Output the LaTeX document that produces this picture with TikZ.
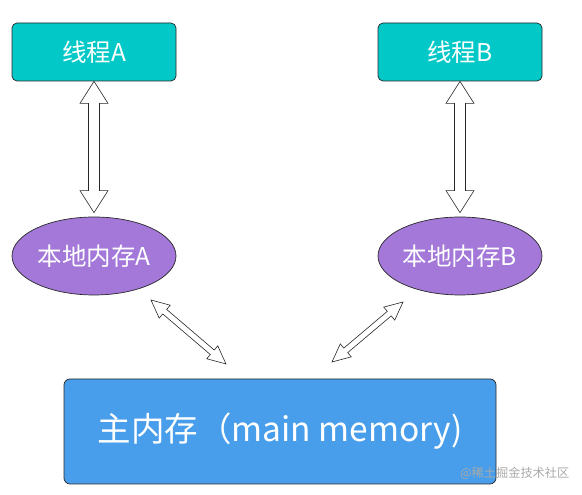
\documentclass[tikz,border=0pt]{standalone}
\usepackage{fontspec}
\setmainfont{Noto Sans CJK SC}
\usetikzlibrary{calc,shapes.geometric}
\definecolor{tealbox}{RGB}{3,200,200}
\definecolor{purpleell}{RGB}{163,120,216}
\definecolor{bluebox}{RGB}{72,158,234}
\definecolor{edgegray}{RGB}{40,40,40}
\definecolor{wmgray}{RGB}{170,170,170}
\newcommand\blockarr[5]{%
  \draw[blockline] let \p1=(#1), \p2=(#2),
    \n1={veclen(\x2-\x1,\y2-\y1)}, \n2={atan2(\y2-\y1,\x2-\x1)} in
    ([shift={(\p1)},rotate=\n2]0,0) --
    ([shift={(\p1)},rotate=\n2]#5,#4) --
    ([shift={(\p1)},rotate=\n2]#5,#3) --
    ([shift={(\p1)},rotate=\n2]\n1-#5,#3) --
    ([shift={(\p1)},rotate=\n2]\n1-#5,#4) --
    ([shift={(\p1)},rotate=\n2]\n1,0) --
    ([shift={(\p1)},rotate=\n2]\n1-#5,-#4) --
    ([shift={(\p1)},rotate=\n2]\n1-#5,-#3) --
    ([shift={(\p1)},rotate=\n2]#5,-#3) --
    ([shift={(\p1)},rotate=\n2]#5,-#4) -- cycle;}
\begin{document}
\begin{tikzpicture}[x=1pt,y=1pt,
  thread/.style={draw=edgegray,line width=0.7pt,fill=tealbox,rounded corners=5pt,
    minimum width=164pt,minimum height=58pt,inner sep=0pt,text=white,
    font=\fontsize{24.5}{28}\selectfont},
  localmem/.style={ellipse,draw=edgegray,line width=0.7pt,fill=purpleell,
    minimum width=164pt,minimum height=78pt,inner sep=0pt,text=white,
    font=\fontsize{24.5}{28}\selectfont},
  mainmem/.style={draw=edgegray,line width=0.7pt,fill=bluebox,rounded corners=6pt,
    minimum width=432pt,minimum height=105pt,inner sep=0pt,text=white,
    font=\fontsize{33.5}{38}\selectfont},
  blockline/.style={draw=edgegray,line width=0.6pt,fill=white,line join=miter}]
\useasboundingbox (0,0) rectangle (582,495);
\node[thread] (thA) at (94,443) {线程A};
\node[thread] (thB) at (460,443) {线程B};
\node[localmem] (memA) at (94,239) {本地内存A};
\node[localmem] (memB) at (460,239) {本地内存B};
\node[mainmem] (main) at (280,63.5) {主内存（main memory)};
\coordinate (vA1) at (thA.south);
\coordinate (vA2) at ([yshift=4pt]memA.north);
\coordinate (vB1) at (thB.south);
\coordinate (vB2) at ([yshift=4pt]memB.north);
\coordinate (dA1) at (151,195);
\coordinate (dA2) at (226,131);
\coordinate (dB1) at (403,193);
\coordinate (dB2) at (332,133);
\blockarr{vA1}{vA2}{5.5}{14}{22}
\blockarr{vB1}{vB2}{5.5}{14}{22}
\blockarr{dA1}{dA2}{3}{8.5}{18}
\blockarr{dB1}{dB2}{3}{8.5}{18}
\node[text=wmgray,font=\fontsize{12.2}{14}\selectfont,anchor=west,inner sep=0pt] (wm) at (460,22) {@稀土掘金技术社区};
\end{tikzpicture}
\end{document}
